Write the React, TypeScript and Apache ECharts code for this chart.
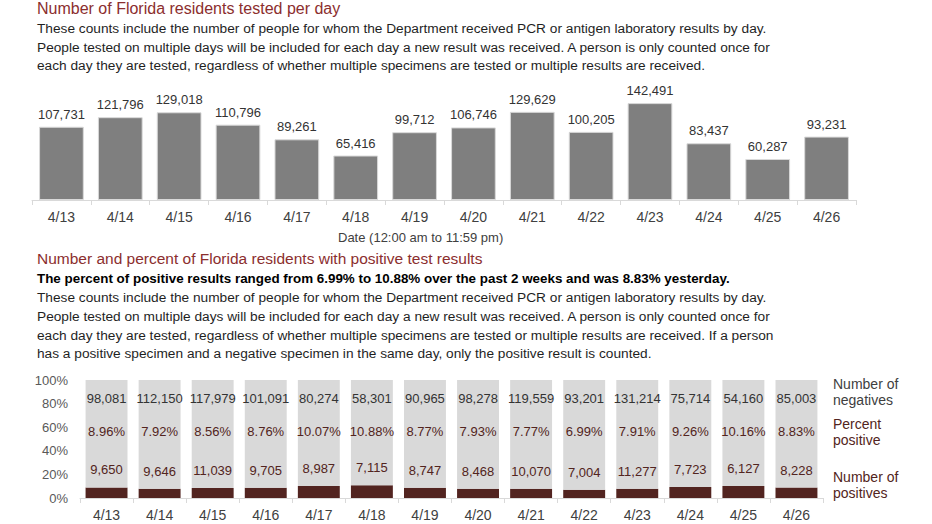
import React, { useEffect, useRef } from "react";
import * as echarts from "echarts";

const dates = ["4/13", "4/14", "4/15", "4/16", "4/17", "4/18", "4/19", "4/20", "4/21", "4/22", "4/23", "4/24", "4/25", "4/26"];
const totalTested = [107731, 121796, 129018, 110796, 89261, 65416, 99712, 106746, 129629, 100205, 142491, 83437, 60287, 93231];
const negatives = [98081, 112150, 117979, 101091, 80274, 58301, 90965, 98278, 119559, 93201, 131214, 75714, 54160, 85003];
const positives = [9650, 9646, 11039, 9705, 8987, 7115, 8747, 8468, 10070, 7004, 11277, 7723, 6127, 8228];
const percentPositive = [8.96, 7.92, 8.56, 8.76, 10.07, 10.88, 8.77, 7.93, 7.77, 6.99, 7.91, 9.26, 10.16, 8.83];
const pctTicks = [0, 20, 40, 60, 80, 100];

const FONT = "Liberation Sans, Arial, sans-serif";
const RED = "#8b2e2e";
const MAROON = "#522420";
const TEXT = "#1f1f1f";
const GRAY_TEXT = "#404040";

const fmt = (v: number) => v.toLocaleString("en-US");

function txt(x: number, y: number, text: string, opts: any = {}) {
  return {
    type: "text",
    x,
    y,
    silent: true,
    style: {
      text,
      x: 0,
      y: 0,
      verticalAlign: "middle",
      align: opts.align || "left",
      fill: opts.color || TEXT,
      fontSize: opts.size || 13.7,
      fontWeight: opts.weight || "normal",
      fontFamily: FONT,
    },
  };
}

export default function App() {
  const ref = useRef<HTMLDivElement>(null);
  useEffect(() => {
    if (!ref.current) return;
    const chart = echarts.init(ref.current, null, { renderer: "svg" });
    const option: any = {
      animation: false,
      backgroundColor: "#ffffff",
      textStyle: { fontFamily: FONT },
      grid: [
        { left: 32, right: 76, top: 98, bottom: 324, containLabel: false },
        { left: 80, right: 109, top: 380, bottom: 26, containLabel: false },
      ],
      xAxis: [
        {
          type: "category",
          gridIndex: 0,
          data: dates,
          axisLine: { lineStyle: { color: "#d9d9d9", width: 1 } },
          axisTick: { show: true, length: 5, lineStyle: { color: "#d9d9d9" } },
          axisLabel: { color: GRAY_TEXT, fontSize: 14, margin: 10, fontFamily: FONT },
        },
        {
          type: "category",
          gridIndex: 1,
          data: dates,
          axisLine: { lineStyle: { color: "#d9d9d9", width: 1 } },
          axisTick: { show: true, length: 5, lineStyle: { color: "#d9d9d9" } },
          axisLabel: { color: GRAY_TEXT, fontSize: 14, margin: 10, fontFamily: FONT },
        },
      ],
      yAxis: [
        { type: "value", gridIndex: 0, min: 0, max: 150000, show: false },
        {
          type: "value",
          gridIndex: 1,
          min: pctTicks[0],
          max: pctTicks[pctTicks.length - 1],
          interval: 20,
          axisLine: { show: false },
          axisTick: { show: false },
          splitLine: { show: false },
          axisLabel: { color: "#595959", fontSize: 13, margin: 12, formatter: "{value}%", fontFamily: FONT },
        },
      ],
      series: [
        {
          type: "bar",
          xAxisIndex: 0,
          yAxisIndex: 0,
          data: totalTested,
          barWidth: "76%",
          itemStyle: { color: "#7f7f7f", borderColor: "#d9d9d9", borderWidth: 1 },
          label: {
            show: true,
            position: "top",
            distance: 6,
            color: "#333333",
            fontSize: 13,
            fontFamily: FONT,
            formatter: (p: any) => fmt(p.value),
          },
        },
        {
          type: "bar",
          name: "positives",
          xAxisIndex: 1,
          yAxisIndex: 1,
          stack: "pct",
          data: percentPositive,
          barWidth: "79%",
          itemStyle: { color: MAROON },
          label: {
            show: true,
            position: "top",
            distance: 11,
            color: MAROON,
            fontSize: 13,
            fontFamily: FONT,
            formatter: (p: any) => fmt(positives[p.dataIndex]),
          },
        },
        {
          type: "bar",
          name: "negatives",
          xAxisIndex: 1,
          yAxisIndex: 1,
          stack: "pct",
          data: percentPositive.map((v) => 100 - v),
          barWidth: "79%",
          itemStyle: { color: "#d9d9d9" },
          label: {
            show: true,
            position: "insideTop",
            distance: 3,
            formatter: (p: any) =>
              "{n|" + fmt(negatives[p.dataIndex]) + "}\n{p|" + percentPositive[p.dataIndex].toFixed(2) + "%}",
            rich: {
              n: { color: "#333333", fontSize: 13, lineHeight: 30, fontFamily: FONT },
              p: { color: MAROON, fontSize: 13, lineHeight: 36, fontFamily: FONT },
            },
          },
        },
      ],
      graphic: [
        txt(37, 8, "Number of Florida residents tested per day", { color: RED, size: 16 }),
        txt(37, 28, "These counts include the number of people for whom the Department received PCR or antigen laboratory results by day."),
        txt(37, 47, "People tested on multiple days will be included for each day a new result was received. A person is only counted once for"),
        txt(37, 65, "each day they are tested, regardless of whether multiple specimens are tested or multiple results are received."),
        txt(338, 237, "Date (12:00 am to 11:59 pm)", { color: GRAY_TEXT, size: 13 }),
        txt(37, 258, "Number and percent of Florida residents with positive test results", { color: RED, size: 15.5 }),
        txt(37, 278, "The percent of positive results ranged from 6.99% to 10.88% over the past 2 weeks and was 8.83% yesterday.", { weight: "bold", color: "#000000", size: 13.4 }),
        txt(37, 297, "These counts include the number of people for whom the Department received PCR or antigen laboratory results by day."),
        txt(37, 316, "People tested on multiple days will be included for each day a new result was received. A person is only counted once for"),
        txt(37, 335, "each day they are tested, regardless of whether multiple specimens are tested or multiple results are received. If a person"),
        txt(37, 353, "has a positive specimen and a negative specimen in the same day, only the positive result is counted."),
        txt(833, 384, "Number of", { color: GRAY_TEXT, size: 14 }),
        txt(833, 400, "negatives", { color: GRAY_TEXT, size: 14 }),
        txt(833, 424, "Percent", { color: MAROON, size: 14 }),
        txt(833, 440, "positive", { color: MAROON, size: 14 }),
        txt(833, 477, "Number of", { color: MAROON, size: 14 }),
        txt(833, 493, "positives", { color: MAROON, size: 14 }),
      ],
    };
    chart.setOption(option);
    return () => chart.dispose();
  }, []);
  return (
    <div
      ref={ref}
      style={{ position: "fixed", left: 0, top: 0, width: 932, height: 524, background: "#fff" }}
    />
  );
}
